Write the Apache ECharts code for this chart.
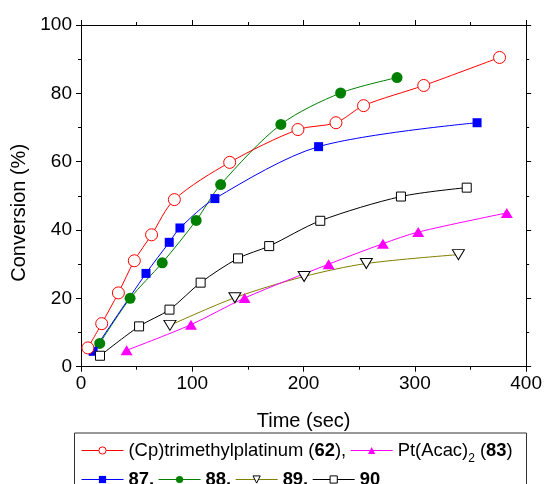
<!DOCTYPE html>
<html>
<head>
<meta charset="utf-8">
<script src="https://cdn.jsdelivr.net/npm/echarts@6/dist/echarts.min.js"></script>
<style>html,body{margin:0;padding:0;background:#fff;}#c{width:545px;height:484px;}</style>
</head>
<body>
<div id="c"></div>
<script>
// Data
const time62 = [6.2, 18.6, 33.6, 47.9, 63.4, 83.9, 133.6, 194.9, 229.1, 253.9, 308.0, 376.1];
const conv62 = [5.5, 12.6, 21.6, 31.0, 38.6, 48.9, 59.8, 69.4, 71.4, 76.4, 82.3, 90.5];
const time83 = [41.0, 98.8, 147.0, 222.5, 271.3, 303.0, 382.6];
const conv83 = [4.8, 12.3, 20.1, 30.0, 36.0, 39.4, 45.0];
const time87 = [10.9, 58.4, 79.3, 88.9, 120.3, 213.5, 355.9];
const conv87 = [4.5, 27.3, 36.4, 40.6, 49.2, 64.4, 71.4];
const time88 = [16.8, 44.1, 73.0, 103.5, 125.5, 179.6, 233.3, 284.0];
const conv88 = [6.8, 20.0, 30.4, 42.8, 53.3, 70.9, 80.1, 84.6];
const time89 = [79.9, 138.3, 200.5, 256.4, 339.1];
const conv89 = [12.1, 20.2, 26.4, 30.2, 32.8];
const time90 = [17.1, 52.2, 79.5, 107.5, 141.1, 169.1, 215.0, 287.5, 346.6];
const conv90 = [3.2, 11.8, 16.7, 24.6, 31.7, 35.3, 42.7, 49.8, 52.4];
const xTicks = [0, 100, 200, 300, 400];
const yTicks = [0, 20, 40, 60, 80, 100];

const pairs = (xs, ys) => xs.map((x, i) => [x, ys[i]]);
const FONT = 'Liberation Sans, Arial, Helvetica, sans-serif';

const axisCommon = {
  axisLine: { show: true, onZero: false, lineStyle: { color: '#000', width: 1 } },
  axisTick: { show: true, inside: false, length: 5, lineStyle: { color: '#000' } },
  minorTick: { show: true, splitNumber: 2, length: 3, lineStyle: { color: '#000' } },
  splitLine: { show: false },
  minorSplitLine: { show: false }
};

function mk(name, data, opts) {
  return Object.assign({
    name: name,
    type: 'line',
    data: data,
    smooth: 0.3,
    symbolSize: 12,
    lineStyle: { width: 1 },
    emphasis: { disabled: true },
    animation: false
  }, opts);
}

const series = [
  mk('s88', pairs(time88, conv88), { symbol: 'circle', symbolSize: 11, itemStyle: { color: '#008000' }, lineStyle: { width: 1, color: '#008000' } }),
  mk('s87', pairs(time87, conv87), { symbol: 'rect', symbolSize: 9, itemStyle: { color: '#0000ff' }, lineStyle: { width: 1, color: '#0000ff' } }),
  mk('s62', pairs(time62, conv62), { symbol: 'circle', symbolSize: 12, itemStyle: { color: '#ffffff', borderColor: '#ff0000', borderWidth: 1 }, lineStyle: { width: 1, color: '#ff0000' } }),
  mk('s90', pairs(time90, conv90), { symbol: 'rect', symbolSize: 9, itemStyle: { color: '#ffffff', borderColor: '#000000', borderWidth: 1 }, lineStyle: { width: 1, color: '#000000' } }),
  mk('s89', pairs(time89, conv89), { symbol: 'triangle', symbolRotate: 180, symbolSize: [12, 10], itemStyle: { color: '#ffffff', borderColor: '#000000', borderWidth: 1 }, lineStyle: { width: 1, color: '#808000' } }),
  mk('s83', pairs(time83, conv83), { symbol: 'triangle', symbolSize: [12, 10], itemStyle: { color: '#ff00ff' }, lineStyle: { width: 1, color: '#ff00ff' } })
];

const legendNames = {
  s62: '{n|(Cp)trimethylplatinum (}{b|62}{n|),}',
  s83: '{n|Pt(Acac)}{sub|2}{n| (}{b|83}{n|)}',
  s87: '{b|87,}',
  s88: '{b|88,}',
  s89: '{b|89,}',
  s90: '{b|90}'
};
const rich = {
  n: { fontSize: 18.4, fontFamily: FONT, color: '#000', lineHeight: 22 },
  b: { fontSize: 18.4, fontFamily: FONT, color: '#000', fontWeight: 'bold', lineHeight: 22 },
  sub: { fontSize: 12, fontFamily: FONT, color: '#000', lineHeight: 12, verticalAlign: 'bottom', padding: [0, 0, -3, 0] }
};
const legendCommon = {
  orient: 'horizontal',
  padding: 0,
  itemGap: 4,
  itemWidth: 42,
  itemHeight: 9,
  selectedMode: false,
  lineStyle: { width: 1 },
  itemStyle: { borderWidth: 1 },
  formatter: n => legendNames[n],
  textStyle: { fontSize: 18.4, fontFamily: FONT, color: '#000', rich: rich }
};

const option = {
  backgroundColor: '#fff',
  animation: false,
  textStyle: { fontFamily: FONT },
  grid: { left: 81, right: 17, top: 25, bottom: 117.3, containLabel: false },
  xAxis: [
    Object.assign({
      type: 'value', min: 0, max: 400, interval: 100, position: 'bottom',
      name: 'Time (sec)', nameLocation: 'middle', nameGap: 45,
      nameTextStyle: { fontSize: 20, fontFamily: FONT, color: '#000' },
      axisLabel: { show: true, fontSize: 19, fontFamily: FONT, color: '#000', margin: 8,
        customValues: xTicks }
    }, axisCommon),
    Object.assign({
      type: 'value', min: 0, max: 400, interval: 100, position: 'top',
      axisLabel: { show: false }
    }, axisCommon)
  ],
  yAxis: [
    Object.assign({
      type: 'value', min: 0, max: 100, interval: 20, position: 'left',
      name: 'Conversion (%)', nameLocation: 'middle', nameGap: 50,
      nameTextStyle: { fontSize: 20, fontFamily: FONT, color: '#000', padding: [0, 34, 0, 0] },
      axisLabel: { show: true, fontSize: 19, fontFamily: FONT, color: '#000', margin: 9,
        customValues: yTicks }
    }, axisCommon),
    Object.assign({
      type: 'value', min: 0, max: 100, interval: 20, position: 'right',
      axisLabel: { show: false }
    }, axisCommon)
  ],
  legend: [
    Object.assign({ left: 81, top: 441.5, data: ['s62', 's83'] }, legendCommon),
    Object.assign({ left: 81, top: 470.5, data: ['s87', 's88', 's89', 's90'] }, legendCommon)
  ],
  graphic: [{
    type: 'rect', left: 72, top: 430.5, silent: true,
    shape: { width: 452, height: 70 },
    style: { fill: 'none', stroke: '#333', lineWidth: 1 }
  }],
  series: series
};

const chart = echarts.init(document.getElementById('c'), null, { renderer: 'canvas' });
chart.setOption(option);
</script>
</body>
</html>
